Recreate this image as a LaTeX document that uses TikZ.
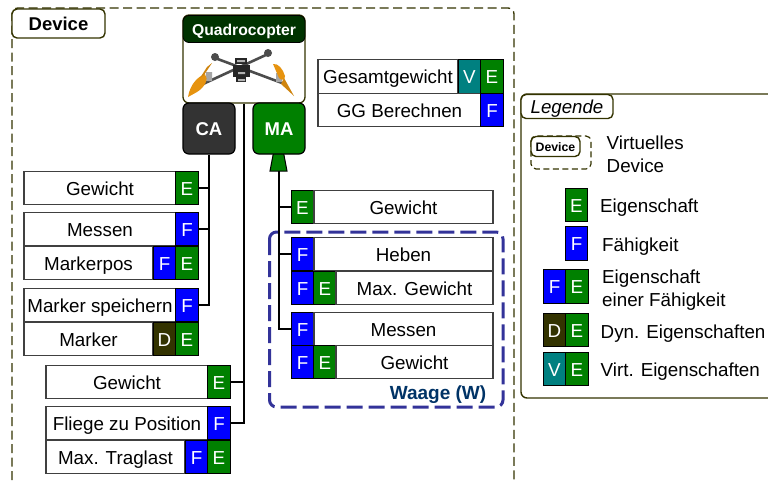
\documentclass[tikz,border=0pt]{standalone}
\usepackage{fontspec}
\setmainfont{Liberation Sans}
\definecolor{eigc}{HTML}{008000}
\definecolor{faec}{HTML}{0000FF}
\definecolor{dync}{HTML}{333300}
\definecolor{virc}{HTML}{008080}
\definecolor{wagc}{HTML}{333399}
\definecolor{wagt}{HTML}{003366}
\definecolor{kopf}{HTML}{003300}
\definecolor{prop}{HTML}{E6930F}
\tikzset{
 txt/.style={font=\fontsize{18.8}{22}\selectfont,text height=14pt,text depth=0pt},
 lab/.style={txt,draw=black!75,line width=1.4pt,fill=white,minimum height=33.5pt,inner sep=0pt},
 badge/.style={txt,text=white,draw=black,line width=1.2pt,minimum width=22.5pt,minimum height=33.5pt,inner sep=0pt},
 eig/.style={badge,fill=eigc},
 fae/.style={badge,fill=faec},
 dyn/.style={badge,fill=dync},
 vir/.style={badge,fill=virc},
 conn/.style={draw=black,line width=1.3pt},
 head/.style={font=\fontsize{18.5}{22}\selectfont\bfseries,text=white,text height=14pt,text depth=0pt,draw=black,line width=1.2pt,rounded corners=6pt,minimum width=52pt,minimum height=51pt,inner sep=0pt},
 tag/.style={draw=dync,line width=1.4pt,rounded corners=5pt,fill=white,inner sep=0pt},
 legtxt/.style={txt,anchor=west,inner sep=0pt}
}
\begin{document}
\begin{tikzpicture}[x=1pt,y=-1pt]
 \useasboundingbox (0,0) rectangle (768,480);
 % device frame
 \draw[draw=dync,line width=1.3pt,dash pattern=on 9pt off 4.5pt,rounded corners=6pt] (12,480)--(12,8)--(514,8)--(514,480);
 \node[tag,minimum width=93pt,minimum height=29pt,font=\fontsize{18.5}{22}\selectfont\bfseries,text height=14pt,text depth=0pt] (deviceTag) at (58.5,23.5) {Device};

 % quadrocopter
 \node[draw=dync,line width=1.3pt,fill=white,rounded corners=6pt,minimum width=122pt,minimum height=88pt,inner sep=0pt] (quad) at (244,59) {};
 \node[fill=kopf,draw=black,line width=.8pt,rounded corners=6pt,minimum width=122pt,minimum height=27pt,inner sep=0pt,text=white,font=\fontsize{15.7}{18}\selectfont\bfseries,text height=12pt,text depth=0pt] (quadHead) at (244,29) {Quadrocopter};
 \draw[black!70,line width=2.6pt] (215,58)--(282,83);
 \draw[black!70,line width=2.6pt] (268,54)--(203,84);
 \fill[black!70] (215,57) circle (4pt) (268,53) circle (4pt);
 \fill[black!35] (206,72) rectangle (212,81) (276,73) rectangle (282,82);
 \fill[black!85] (235,58) rectangle (247,64);
 \fill[black!85] (233,65) rectangle (250,77);
 \fill[black!85] (236,77) rectangle (246,82);
 \fill[black!30] (237,60) rectangle (245,62) (238,72) rectangle (245,74) (238,79) rectangle (245,81);
 \fill[prop] (188,97) .. controls (190,85) and (197,77) .. (205,74) .. controls (209,79) and (205,87) .. (197,92) -- cycle;
 \fill[prop!90!black] (204,75) -- (212,63) -- (207,67) -- (200,78) -- cycle;
 \fill[prop] (273,64) .. controls (278,63) and (283,69) .. (285,76) .. controls (285,80) and (282,81) .. (279,78) -- cycle;
 \fill[prop!90!black] (284,78) -- (294,96) -- (281,84) -- cycle;

 % connectors
 \fill[eigc,draw=black,line width=1pt] (274,150)--(283,150)--(287,171)--(270,171)--cycle;
 \coordinate (maFoot) at (279,171);
 \node[head,fill=black!80] (ca) at (209,128.5) {CA};
 \node[head,fill=eigc] (ma) at (279,128.5) {MA};

 % left column
 \node[lab,minimum width=152pt] (gewichtCa) at (100,188) {Gewicht};
 \node[eig] (gewichtCaE) at (187,188) {E};
 \node[lab,minimum width=152pt] (messenCa) at (100,229) {Messen};
 \node[fae] (messenCaF) at (187,229) {F};
 \node[lab,minimum width=129pt] (markerpos) at (88.5,263) {Markerpos};
 \node[fae] (markerposF) at (164.5,263) {F};
 \node[eig] (markerposE) at (187,263) {E};
 \node[lab,minimum width=152pt] (speichern) at (100,305) {Marker speichern};
 \node[fae] (speichernF) at (187,305) {F};
 \node[lab,minimum width=129pt] (marker) at (88.5,339) {Marker};
 \node[dyn] (markerD) at (164.5,339) {D};
 \node[eig] (markerE) at (187,339) {E};

 % middle column
 \node[lab,minimum width=162pt] (gewichtQ) at (127,382) {Gewicht};
 \node[eig] (gewichtQE) at (219,382) {E};
 \node[lab,minimum width=162pt] (fliege) at (127,423) {Fliege zu Position};
 \node[fae] (fliegeF) at (219,423) {F};
 \node[lab,minimum width=139pt] (traglast) at (115.5,457) {Max. Traglast};
 \node[fae] (traglastF) at (196.5,457) {F};
 \node[eig] (traglastE) at (219,457) {E};

 % right column
 \node[eig] (gewichtMaE) at (302.5,207) {E};
 \node[lab,minimum width=179pt] (gewichtMa) at (403.5,207) {Gewicht};
 \node[fae] (hebenF) at (302.5,254) {F};
 \node[lab,minimum width=179pt] (heben) at (403.5,254) {Heben};
 \node[fae] (maxgF) at (302.5,288) {F};
 \node[eig] (maxgE) at (325,288) {E};
 \node[lab,minimum width=157pt] (maxg) at (414.5,288) {Max. Gewicht};
 \node[fae] (messenMaF) at (302.5,329) {F};
 \node[lab,minimum width=179pt] (messenMa) at (403.5,329) {Messen};
 \node[fae] (wgewF) at (302.5,362) {F};
 \node[eig] (wgewE) at (325,362) {E};
 \node[lab,minimum width=157pt] (wgew) at (414.5,362) {Gewicht};
 \draw[draw=wagc,line width=3pt,dash pattern=on 16pt off 6pt,rounded corners=7pt] (269.5,232) rectangle (503,407);
 \node[text=wagt,font=\fontsize{19}{22}\selectfont\bfseries] (waage) at (438,395) {Waage (W)};

 % top right
 \node[lab,minimum width=140pt] (gesamt) at (388,76.5) {Gesamtgewicht};
 \node[vir] (gesamtV) at (469.5,76.5) {V};
 \node[eig] (gesamtE) at (492,76.5) {E};
 \node[lab,minimum width=163pt] (ggb) at (399.5,110) {GG Berechnen};
 \node[fae] (ggbF) at (492,110) {F};

 \draw[conn] (ca) -- (ca |- speichernF) -- (speichernF);
 \draw[conn] (gewichtCaE) -- (gewichtCaE -| ca);
 \draw[conn] (messenCaF) -- (messenCaF -| ca);
 \draw[conn] (quad) -- (quad |- fliegeF) -- (fliegeF);
 \draw[conn] (gewichtQE) -- (gewichtQE -| quad);
 \draw[conn] (maFoot) -- (maFoot |- messenMaF) -- (messenMaF);
 \draw[conn] (gewichtMaE) -- (gewichtMaE -| maFoot);
 \draw[conn] (hebenF) -- (hebenF -| maFoot);

 % legend
 \draw[draw=dync,line width=1.4pt,rounded corners=6pt] (768,94)--(521,94)--(521,398)--(768,398);
 \node[tag,minimum width=92pt,minimum height=24pt,font=\fontsize{18.7}{22}\selectfont\itshape,text height=14pt,text depth=0pt] (legende) at (567,106.5) {Legende};
 \draw[draw=dync,line width=1.2pt,dash pattern=on 6pt off 3.5pt,rounded corners=5pt] (531,136) rectangle (591,169);
 \node[tag,minimum width=49pt,minimum height=20pt,font=\fontsize{12.3}{14}\selectfont\bfseries,text height=9pt,text depth=0pt] (legDevice) at (555.5,146.5) {Device};
 \node[legtxt] (legVirtA) at (606.5,142) {Virtuelles};
 \node[legtxt] (legVirtB) at (606.5,165) {Device};
 \node[eig] (legE) at (576.5,205) {E};
 \node[legtxt] (legEig) at (600,205) {Eigenschaft};
 \node[fae] (legF) at (576.5,243.5) {F};
 \node[legtxt] (legFae) at (602,244) {Fähigkeit};
 \node[fae] (legFEf) at (554.5,286.5) {F};
 \node[eig] (legFEe) at (577,286.5) {E};
 \node[legtxt] (legFEa) at (602,276) {Eigenschaft};
 \node[legtxt] (legFEb) at (602,299) {einer Fähigkeit};
 \node[dyn] (legDEd) at (554.5,330) {D};
 \node[eig] (legDEe) at (577,330) {E};
 \node[legtxt] (legDyn) at (600.5,331) {Dyn. Eigenschaften};
 \node[vir] (legVEv) at (554.5,369) {V};
 \node[eig] (legVEe) at (577,369) {E};
 \node[legtxt] (legVir) at (600.5,369) {Virt. Eigenschaften};
\end{tikzpicture}
\end{document}
